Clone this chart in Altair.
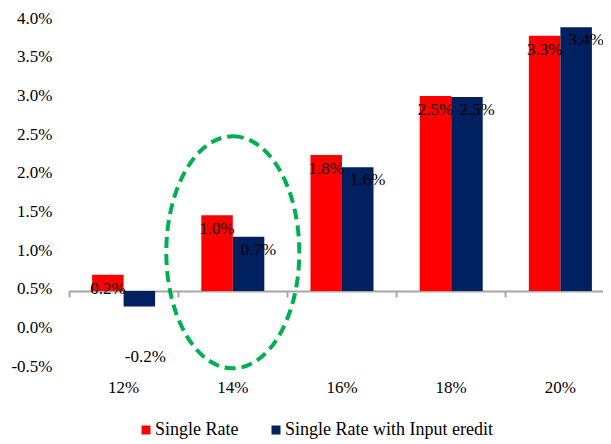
import altair as alt
import pandas as pd

# ---- data ----
categories = ["12%", "14%", "16%", "18%", "20%"]
series = ["Single Rate", "Single Rate with Input eredit"]
single_rate = [0.21, 0.98, 1.76, 2.52, 3.30]
with_credit = [-0.20, 0.70, 1.60, 2.51, 3.41]
axis_base = 0.47          # level at which the category axis crosses the value axis
y_ticks = [-0.5, 0.0, 0.5, 1.0, 1.5, 2.0, 2.5, 3.0, 3.5, 4.0]
highlight_category = ["14%"]
highlight_center = [0.50]

colors = ["#FF0000", "#002060"]
FONT = "Liberation Serif"
FS = 17
LFS = 18

rows = []
for c, a, b in zip(categories, single_rate, with_credit):
    rows.append({"cat": c, "series": series[0], "value": a})
    rows.append({"cat": c, "series": series[1], "value": b})
df = pd.DataFrame(rows)
df["top"] = df["value"] + axis_base
df["base"] = axis_base
df["label"] = df["value"].map(lambda v: f"{v:.1f}%")

hl = pd.DataFrame({"cat": highlight_category,
                   "center": [v + axis_base for v in highlight_center]})

x_scale = alt.Scale(domain=categories, range=[0, 546], paddingInner=0, paddingOuter=0)
x_axis = alt.Axis(title=None, orient="bottom", offset=-75, domainColor="#A6A6A6",
                  domainWidth=2, tickColor="#A6A6A6", tickWidth=2, tickSize=6,
                  bandPosition=0, labelPadding=90, labelBaseline="middle",
                  labelAngle=0, labelFont=FONT, labelFontSize=FS, labelColor="black",
                  grid=False, labelOverlap=False)
y_scale = alt.Scale(domain=[-0.5, 4.0], nice=False, zero=False)
y_axis = alt.Axis(title=None, values=y_ticks,
                  labelExpr="(datum.value < 0 ? '-' : '') + format(abs(datum.value), '.1f') + '%'",
                  domain=False, ticks=False, tickSize=0, grid=False, labelPadding=17,
                  labelFont=FONT, labelFontSize=FS, labelColor="black", labelOverlap=False)

x_enc = alt.X("cat:N", sort=categories, scale=x_scale, axis=x_axis)
y_enc = alt.Y("top:Q", scale=y_scale, axis=y_axis)
xoff = alt.XOffset("series:N", sort=series,
                   scale=alt.Scale(domain=series, paddingOuter=0.733, paddingInner=0))

base = alt.Chart(df)

bars = base.mark_bar().encode(
    x=x_enc, xOffset=xoff, y=y_enc, y2="base:Q",
    color=alt.Color("series:N", sort=series,
                    scale=alt.Scale(domain=series, range=colors),
                    legend=alt.Legend(title=None, orient="none", legendX=68, legendY=403,
                                      direction="horizontal", symbolType="square",
                                      symbolSize=81, symbolStrokeWidth=0, padding=0,
                                      labelFont=FONT, labelFontSize=LFS, labelColor="black",
                                      columnPadding=28, labelOffset=0, labelLimit=0)),
)

txt_kw = dict(font=FONT, fontSize=FS, color="black", baseline="middle", align="center")

red_lbl = base.transform_filter(alt.datum.series == series[0]).mark_text(dy=14, **txt_kw).encode(
    x=x_enc, xOffset=xoff, y=y_enc, text="label:N")
blue_pos = base.transform_filter(
    (alt.datum.series == series[1]) & (alt.datum.value >= 0)
).mark_text(dx=10, dy=13, **txt_kw).encode(x=x_enc, xOffset=xoff, y=y_enc, text="label:N")
blue_neg = base.transform_filter(
    (alt.datum.series == series[1]) & (alt.datum.value < 0)
).mark_text(dx=6, dy=51, **txt_kw).encode(x=x_enc, xOffset=xoff, y=y_enc, text="label:N")

ellipse_path = ("M0,-1 C0.3166,-1 0.5733,-0.5523 0.5733,0 C0.5733,0.5523 0.3166,1 0,1 "
                "C-0.3166,1 -0.5733,0.5523 -0.5733,0 C-0.5733,-0.5523 -0.3166,-1 0,-1 Z")
ellipse = alt.Chart(hl).mark_point(
    shape=ellipse_path, size=232 ** 2, filled=False, color="#00B050",
    strokeWidth=4, strokeDash=[11, 6], opacity=1,
).encode(x=alt.X("cat:N", sort=categories, scale=x_scale, axis=x_axis),
         y=alt.Y("center:Q", scale=y_scale, axis=y_axis))

chart = alt.layer(bars, red_lbl, blue_pos, blue_neg, ellipse).properties(
    width=534, height=348,
    autosize=alt.AutoSizeParams(type="none"),
    padding={"left": 61, "top": 10, "right": 0, "bottom": 74},
).configure_view(stroke=None).configure_axis(
    labelFont=FONT, labelFontSize=FS, labelColor="black"
).configure_legend(labelFont=FONT, labelFontSize=LFS, labelColor="black")

chart.save("out.html", embed_options={"renderer": "svg", "actions": False})
